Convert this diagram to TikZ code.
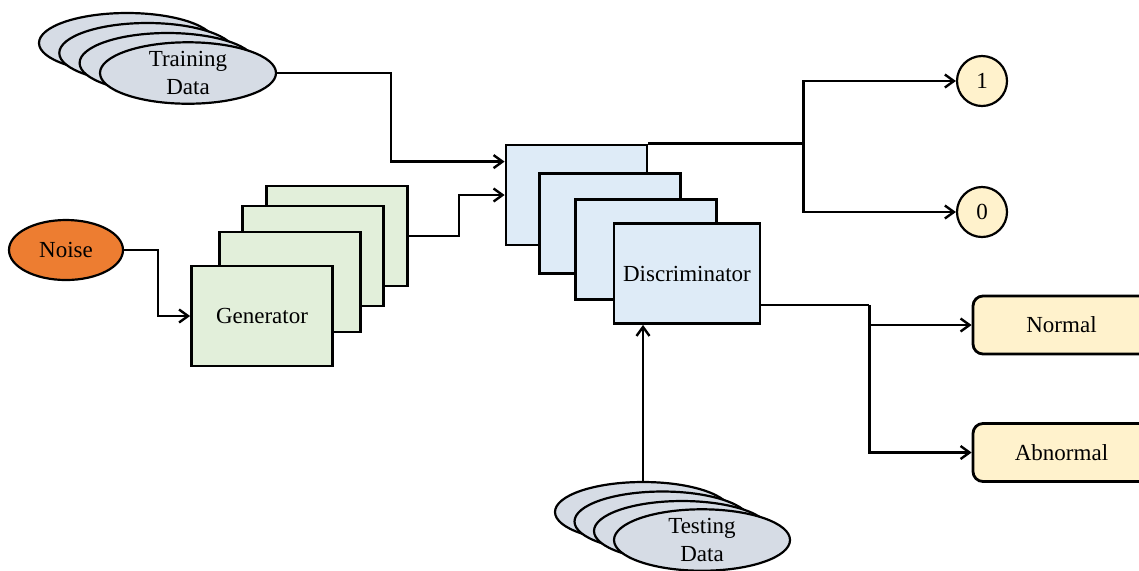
\documentclass[tikz,border=0pt]{standalone}
\usepackage{fontspec}
\setmainfont{Liberation Serif}
\usepackage{tikz}
\usetikzlibrary{shapes.geometric, arrows.meta, positioning, calc}
\definecolor{gandata}{HTML}{D6DCE5}
\definecolor{gangen}{HTML}{E2EFDA}
\definecolor{gandisc}{HTML}{DEEBF7}
\definecolor{ganout}{HTML}{FFF2CC}
\definecolor{gannoise}{HTML}{ED7D31}

\begin{document}
\begin{tikzpicture}[x=0.5pt, y=-0.5pt,
    every node/.style={font=\fontsize{11.5}{14}\selectfont},
    datacloud/.style={ellipse, draw=black, line width=1.1pt, fill=gandata,
        minimum width=88pt, minimum height=30pt, inner sep=0pt, align=center},
    block/.style={rectangle, draw=black, line width=1.4pt,
        minimum width=70.5pt, minimum height=50pt, inner sep=0pt},
    result/.style={rectangle, rounded corners=5pt, draw=black, line width=1.4pt,
        fill=ganout, minimum width=88.5pt, minimum height=29pt, inner sep=0pt},
    link/.style={draw=black, line width=1.2pt},
    arr/.style={link, -{Straight Barb[length=4.5pt, width=6.5pt]}}]
% Frame
\useasboundingbox (0,0) rectangle (1139,570);
\clip (0,0) rectangle (1139,570);
% Training data stack
\foreach \i in {0,...,2} {
    \node[datacloud] (td\i) at (127+20.3*\i, 43+10*\i) {};
}
\node[datacloud] (td3) at (188,73) {Training\\Data};
% Noise
\node[ellipse, draw=black, line width=1.1pt, fill=gannoise, minimum width=57pt,
      minimum height=30pt, inner sep=0pt] (noise) at (66,250) {Noise};
% Generator stack
\foreach \i/\x/\y in {3/337/236, 2/313/256, 1/290/282} {
    \node[block, fill=gangen] (gen\i) at (\x,\y) {};
}
\node[block, fill=gangen] (gen0) at (262,316) {Generator};
% Discriminator stack
\foreach \i/\x/\y in {0/576.5/195, 1/610/223.5, 2/646/249.5} {
    \node[block, fill=gandisc] (dc\i) at (\x,\y) {};
}
\node[block, fill=gandisc, minimum width=73pt] (dc3) at (687,273.5) {Discriminator};
% Outputs
\node[circle, draw=black, line width=1.1pt, fill=ganout, minimum size=25pt,
      inner sep=0pt] (one) at (982,81) {1};
\node[circle, draw=black, line width=1.1pt, fill=ganout, minimum size=25pt,
      inner sep=0pt] (zero) at (982,212) {0};
\node[result] (normal) at (1061.5,325) {Normal};
\node[result] (abnormal) at (1061.5,452.5) {Abnormal};
% Testing data stack
\foreach \i in {0,...,2} {
    \node[datacloud] (ts\i) at (643+19.5*\i, 512+9.5*\i) {};
}
\node[datacloud] (ts3) at (702,540) {Testing\\Data};
% Connectors
\coordinate (inA) at ($(dc0.north west)+(0,18)$);
\draw[arr] (td3.east) -- ++(114,0) |- (inA);
\draw[arr] (noise.east) -- ++(34,0) |- (gen0.west);
\draw[arr] (gen3.east) -- ++(50,0) |- (dc0.west);
\draw[arr] (ts0.north) -- (ts0.north |- dc3.south);
% Real / fake split
\coordinate (split1) at ($(dc0.north east)+(155,0)$);
\draw[link] (dc0.north east) -- (split1);
\draw[arr] (split1) |- (one.west);
\draw[arr] (split1) |- (zero.west);
% Normal / abnormal split
\coordinate (dcout) at ($(dc3.south east)+(0,-20)$);
\coordinate (split2) at ($(dcout)+(108,0)$);
\draw[link] (dcout) -- (split2);
\draw[arr] (split2 |- normal.west) -- (normal.west);
\draw[arr] (split2) |- (abnormal.west);
\end{tikzpicture}
\end{document}
